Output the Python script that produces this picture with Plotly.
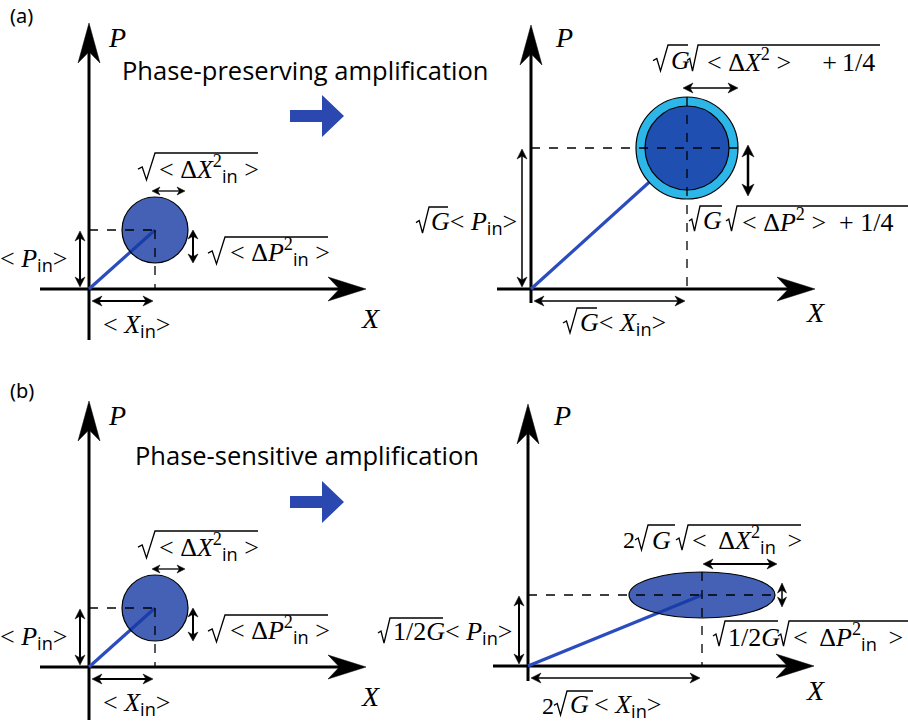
import plotly.graph_objects as go

W, H = 908, 723

# ---- diagram values (pixel units of the canvas) ----
panels = ["a_in", "a_out", "b_in", "b_out"]
origin_x = [89, 531, 89, 528]
origin_y = [289, 289, 667, 666]
axis_left = [40, 497, 40, 493]
axis_right = [366, 815, 366, 814]
axis_top = [23, 25, 401, 404]
axis_bottom = [340, 303, 720, 681]
mean_X = [66, 156, 66, 174]       # <X>
mean_P = [59, 141, 59, 71]        # <P>
spread_X = [33, 42, 33, 73]       # sqrt(<dX^2>)
spread_P = [33, 42, 33, 23]       # sqrt(<dP^2>)
added_noise = [0, 9, 0, 0]        # extra noise ring (phase-preserving)
dash_through = [False, True, False, True]

titles = ["Phase-preserving amplification", "Phase-sensitive amplification"]
panel_tags = ["(a)", "(b)"]

NB = "\u00a0"
EN = "\u2002"
EM = "\u2003"
TH = "\u2009"
IN = "<span style='font-family:Open Sans'>in</span>"
D = "\u0394"
SQ_IN = "<sup>2</sup><sub>" + IN + "</sub>"

lab_P_in = "<" + NB + "<i>P</i><sub>" + IN + "</sub>>"
lab_X_in = "<" + NB + "<i>X</i><sub>" + IN + "</sub>>"
lab_dX_in = "<" + NB + D + "<i>X</i>" + SQ_IN + NB + ">"
lab_dP_in = "<" + NB + D + "<i>P</i>" + SQ_IN + NB + ">"
lab_dX_in_w = "<" + NB + TH + D + "<i>X</i>" + SQ_IN + NB + TH + ">"
lab_dP_in_w = "<" + NB + TH + D + "<i>P</i>" + SQ_IN + NB + TH + ">"
lab_dX_out = "<" + NB + D + "<i>X</i><sup>2</sup>" + NB + ">" + EM + TH + "+" + TH + "1/4"
lab_dP_out = "<" + NB + D + "<i>P</i><sup>2</sup>" + NB + ">" + EN + "+" + NB + "1/4"
G = "<i>G</i>"
HALF_G = "1/2<i>G</i>"

# text pieces: (html, x, y, xanchor, size)
texts = {
    "a_in": [
        ("<i>P</i>", 106, 37, "left", 28),
        ("<i>X</i>", 370, 318, "center", 28),
        (lab_P_in, 69, 260, "right", 26),
        (lab_X_in, 136, 326, "center", 26),
        (lab_dX_in, 157, 169, "left", 26),
        (lab_dP_in, 228, 252, "left", 26),
    ],
    "a_out": [
        ("<i>P</i>", 553, 37, "left", 28),
        ("<i>X</i>", 815, 312, "center", 28),
        (G + lab_P_in, 429, 223, "left", 26),
        (G + lab_X_in, 578, 324, "left", 26),
        (G, 669, 60, "left", 26),
        (lab_dX_out, 705, 60, "left", 26),
        (G, 701, 220, "left", 26),
        (lab_dP_out, 740, 220, "left", 26),
    ],
    "b_in": [
        ("<i>P</i>", 106, 415, "left", 28),
        ("<i>X</i>", 370, 696, "center", 28),
        (lab_P_in, 69, 638, "right", 26),
        (lab_X_in, 136, 704, "center", 26),
        (lab_dX_in, 157, 547, "left", 26),
        (lab_dP_in, 228, 630, "left", 26),
    ],
    "b_out": [
        ("<i>P</i>", 551, 415, "left", 28),
        ("<i>X</i>", 815, 690, "center", 28),
        (HALF_G, 391, 631, "left", 26),
        (lab_P_in, 443, 633, "left", 26),
        ("2", 556, 706, "right", 24),
        (G + TH + lab_X_in, 568, 706, "left", 26),
        ("2", 637, 540, "right", 24),
        (G, 650, 540, "left", 26),
        (lab_dX_in_w, 690, 540, "left", 26),
        (HALF_G, 726, 637, "left", 26),
        (lab_dP_in_w, 791, 637, "left", 26),
    ],
}

# radical signs: (vinculum start, vinculum end, top, bottom, sign width)
radicals = {
    "a_in": [(155, 258, 153, 180, 17), (225, 328, 237, 264, 17)],
    "a_out": [(429, 448, 207, 233, 13), (577, 597, 308, 333, 14),
              (668, 688, 45, 71, 15), (698, 880, 45, 71, 11),
              (700, 722, 206, 231, 11), (737, 908, 206, 231, 11)],
    "b_in": [(155, 258, 531, 558, 17), (225, 328, 615, 642, 17)],
    "b_out": [(390, 443, 618, 643, 12), (567, 593, 691, 715, 13),
              (648, 675, 525, 550, 13), (688, 801, 525, 550, 12),
              (725, 778, 621, 646, 12), (789, 908, 621, 646, 11)],
}

BLUE_LINE = "#2a4cbf"
BLOB_FILL = "rgba(21,57,164,0.80)"
RING_FILL = "#2db6e8"
INNER_FILL = "rgba(30,70,170,0.92)"
BIG_ARROW = "#2b47b0"

shapes = []
annotations = []


def head(tip, d, length, hw, notch=0.3, color="black"):
    tx, ty = tip
    dx, dy = d
    px, py = -dy, dx
    bx, by = tx - length * dx, ty - length * dy
    nx, ny = tx - length * (1 - notch) * dx, ty - length * (1 - notch) * dy
    path = "M {:.1f},{:.1f} L {:.1f},{:.1f} L {:.1f},{:.1f} L {:.1f},{:.1f} Z".format(
        tx, ty, bx + hw * px, by + hw * py, nx, ny, bx - hw * px, by - hw * py)
    shapes.append(dict(type="path", path=path, fillcolor=color,
                       line=dict(width=0.5, color=color), layer="above"))


def line(x0, y0, x1, y1, width=1.5, color="black", dash="solid"):
    shapes.append(dict(type="line", x0=x0, y0=y0, x1=x1, y1=y1,
                       line=dict(width=width, color=color, dash=dash), layer="above"))


def darrow(x0, y0, x1, y1, width=1.5, hl=9, hw=4.5):
    L = ((x1 - x0) ** 2 + (y1 - y0) ** 2) ** 0.5
    dx, dy = (x1 - x0) / L, (y1 - y0) / L
    s = min(hl * 0.6, L / 2)
    line(x0 + s * dx, y0 + s * dy, x1 - s * dx, y1 - s * dy, width)
    head((x1, y1), (dx, dy), hl, hw)
    head((x0, y0), (-dx, -dy), hl, hw)


def radical(xs, xe, yt, yb, w):
    h = yb - yt
    pts = [(xs - w, yt + 0.60 * h), (xs - w + 0.25 * w, yt + 0.52 * h),
           (xs - 0.5 * w, yb), (xs, yt), (xe, yt)]
    path = "M " + " L ".join("{:.1f},{:.1f}".format(x, y) for x, y in pts)
    shapes.append(dict(type="path", path=path, fillcolor="rgba(0,0,0,0)",
                       line=dict(width=1.3, color="black"), layer="above"))


def text(txt, x, y, anc, sz, family="Liberation Serif"):
    annotations.append(dict(text=txt, x=x, y=y, xref="x", yref="y",
                            xanchor=anc, yanchor="middle", showarrow=False,
                            font=dict(family=family, size=sz, color="black")))


for i, p in enumerate(panels):
    ox, oy = origin_x[i], origin_y[i]
    cx, cy = ox + mean_X[i], oy - mean_P[i]
    rx, ry = spread_X[i], spread_P[i]
    rn = added_noise[i]
    # axes
    line(axis_left[i], oy, axis_right[i] - 20, oy, 3)
    head((axis_right[i], oy), (1, 0), 38, 12, 0.3)
    line(ox, axis_bottom[i], ox, axis_top[i] + 20, 3)
    head((ox, axis_top[i]), (0, -1), 40, 11, 0.28)
    # mean vector
    line(ox, oy, cx, cy, 3.2, BLUE_LINE)
    # noise blob
    if rn > 0:
        shapes.append(dict(type="circle", x0=cx - rx - rn, x1=cx + rx + rn,
                           y0=cy - ry - rn, y1=cy + ry + rn, fillcolor=RING_FILL,
                           line=dict(width=1.2, color="black"), layer="above"))
        shapes.append(dict(type="circle", x0=cx - rx, x1=cx + rx,
                           y0=cy - ry, y1=cy + ry, fillcolor=INNER_FILL,
                           line=dict(width=1.2, color="black"), layer="above"))
    else:
        shapes.append(dict(type="circle", x0=cx - rx, x1=cx + rx,
                           y0=cy - ry, y1=cy + ry, fillcolor=BLOB_FILL,
                           line=dict(width=1.2, color="black"), layer="above"))
    # projections
    if dash_through[i]:
        line(ox, cy, cx + rx + rn, cy, 1.3, "black", "dash")
        line(cx, cy - ry - rn, cx, oy, 1.3, "black", "dash")
    else:
        line(ox, cy, cx, cy, 1.3, "black", "dash")
        line(cx, cy, cx, oy, 1.3, "black", "dash")
    # mean arrows
    darrow(ox + 3, oy + 12, cx - 2, oy + 12, 2 if i in (0, 2) else 1.5, 10, 5)
    darrow(ox - 9, cy + 1, ox - 9, oy - 2, 2 if i != 1 else 1.5, 10, 5)
    # spread arrows
    R = rx + rn
    Rp = ry + rn
    if p == "b_out":
        darrow(cx + 1, cy - ry - 8, cx + rx + 2, cy - ry - 8, 2, 10, 5)
        darrow(cx + rx + 7, cy - 12, cx + rx + 7, cy + 12, 1.5, 10, 4.5)
    elif p == "a_out":
        darrow(cx - 4, cy - Rp - 9, cx + R, cy - Rp - 9, 1.3, 10, 5)
        darrow(cx + R + 10, cy - 3, cx + R + 10, cy + Rp - 3, 2.5, 12, 6)
    else:
        darrow(cx - 3, cy - ry - 6, cx + rx - 3, cy - ry - 6, 1.3, 8, 4)
        darrow(cx + rx + 5, cy, cx + rx + 5, cy + ry, 2, 9, 5)
    # labels
    for xs, xe, yt, yb, w in radicals[p]:
        radical(xs, xe, yt, yb, w)
    for txt, x, y, anc, sz in texts[p]:
        text(txt, x, y, anc, sz)

# panel titles, tags, and transition arrows
title_x = [120, 133]
title_y = [70, 455]
tag_y = [15, 390]
arrow_y = [116, 502]
for k in range(2):
    text(titles[k], title_x[k], title_y[k], "left", 25.5, "Open Sans")
    text(panel_tags[k], 8, tag_y[k], "left", 20, "Noto Sans")
    ay = arrow_y[k]
    path = ("M 290,{a} L 322,{a} L 322,{b} L 344,{c} L 322,{d} L 322,{e} L 290,{e} Z"
            .format(a=ay - 6, b=ay - 21, c=ay, d=ay + 21, e=ay + 6))
    shapes.append(dict(type="path", path=path, fillcolor=BIG_ARROW,
                       line=dict(width=0), layer="above"))

fig = go.Figure()
fig.update_layout(
    width=W, height=H, margin=dict(l=0, r=0, t=0, b=0),
    paper_bgcolor="white", plot_bgcolor="white",
    xaxis=dict(range=[0, W], visible=False, fixedrange=True),
    yaxis=dict(range=[H, 0], visible=False, fixedrange=True),
    shapes=shapes, annotations=annotations, showlegend=False,
)
fig.write_html("out.html", config={"displayModeBar": False},
               post_script="document.body.style.margin='0px';document.body.style.overflow='hidden';")
